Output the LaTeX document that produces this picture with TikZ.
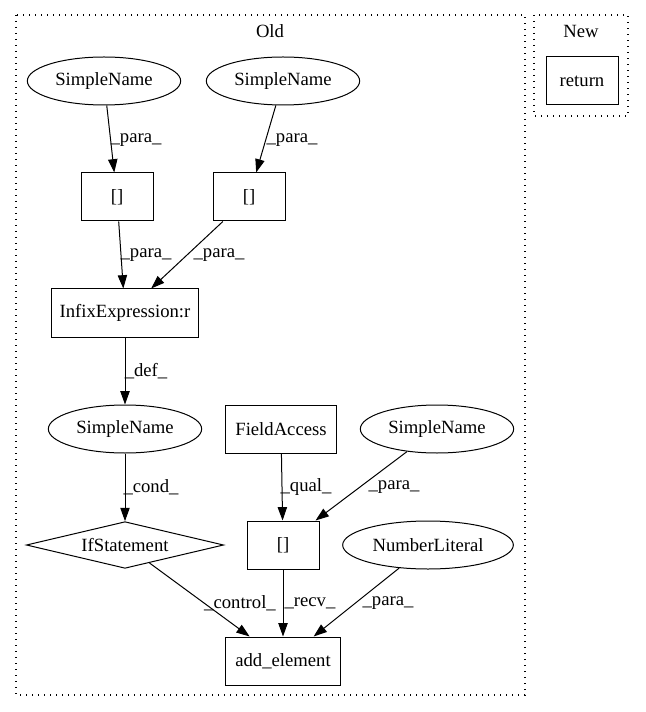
\documentclass[tikz,border=0pt]{standalone}
\usepackage{fontspec}
\setmainfont{Liberation Serif}
\usetikzlibrary{arrows.meta,shapes.geometric,positioning}

\begin{document}
\begin{tikzpicture}[x=0.75pt,y=-0.75pt,
  font=\fontsize{14}{16}\selectfont,
  line width=0.75pt,
  box/.style={draw,rectangle,minimum height=36pt,inner sep=0pt},
  oval/.style={draw,ellipse,minimum height=36pt,minimum width=115pt,inner sep=0pt},
  test/.style={draw,diamond,aspect=4.2,minimum width=148pt,minimum height=35pt,inner sep=0pt},
  lbl/.style={inner sep=0pt},
  flow/.style={-{Triangle[length=10pt,width=7pt]}},
  cluster/.style={line width=1pt,dash pattern=on 1pt off 3.5pt}]
\useasboundingbox (0,0) rectangle (645,712);

% clusters
\draw[cluster] (16,15) rectangle (525,695);
\draw[cluster] (534,15) rectangle (628,116);
\node (old) at (270,31) {Old};
\node (new) at (581,31) {New};

% old
\node[oval] (sn1) at (104,81) {SimpleName};
\node[oval] (sn2) at (283,81) {SimpleName};
\node[box,minimum width=54pt] (br1) at (117,197) {[]};
\node[box,minimum width=54pt] (br2) at (249,197) {[]};
\node[box,minimum width=110pt] (infix) at (125,313) {InfixExpression:r};
\node[oval] (sn3) at (125,429) {SimpleName};
\node[box,minimum width=83pt] (field) at (281,429) {FieldAccess};
\node[oval] (sn4) at (437,429) {SimpleName};
\node[test] (ifst) at (125,545) {IfStatement};
\node[box,minimum width=54pt] (br3) at (283,545) {[]};
\node[oval,minimum width=128pt] (num) at (428,545) {NumberLiteral};
\node[box,minimum width=86pt] (add) at (283,661) {add\_element};

% new
\node[box,minimum width=54pt] (ret) at (582,81) {return};

\draw[flow] (sn1) -- (br1);
\draw[flow] (sn2) -- (br2);
\draw[flow] (br1) -- (infix);
\draw[flow] (br2) -- (infix);
\draw[flow] (infix) -- (sn3);
\draw[flow] (sn3) -- (ifst);
\draw[flow] (field) -- (br3);
\draw[flow] (sn4) -- (br3);
\draw[flow] (ifst) -- (add);
\draw[flow] (br3) -- (add);
\draw[flow] (num) -- (add);

% edge labels
\node[lbl] (l1) at (136,140) {\_para\_};
\node[lbl] (l2) at (292,140) {\_para\_};
\node[lbl] (l3) at (146,255) {\_para\_};
\node[lbl] (l4) at (219,255) {\_para\_};
\node[lbl] (l5) at (146,371) {\_def\_};
\node[lbl] (l6) at (151,487) {\_cond\_};
\node[lbl] (l7) at (306,487) {\_qual\_};
\node[lbl] (l8) at (394,487) {\_para\_};
\node[lbl] (l9) at (240,603) {\_control\_};
\node[lbl] (l10) at (310,603) {\_recv\_};
\node[lbl] (l11) at (388,603) {\_para\_};
\end{tikzpicture}
\end{document}
